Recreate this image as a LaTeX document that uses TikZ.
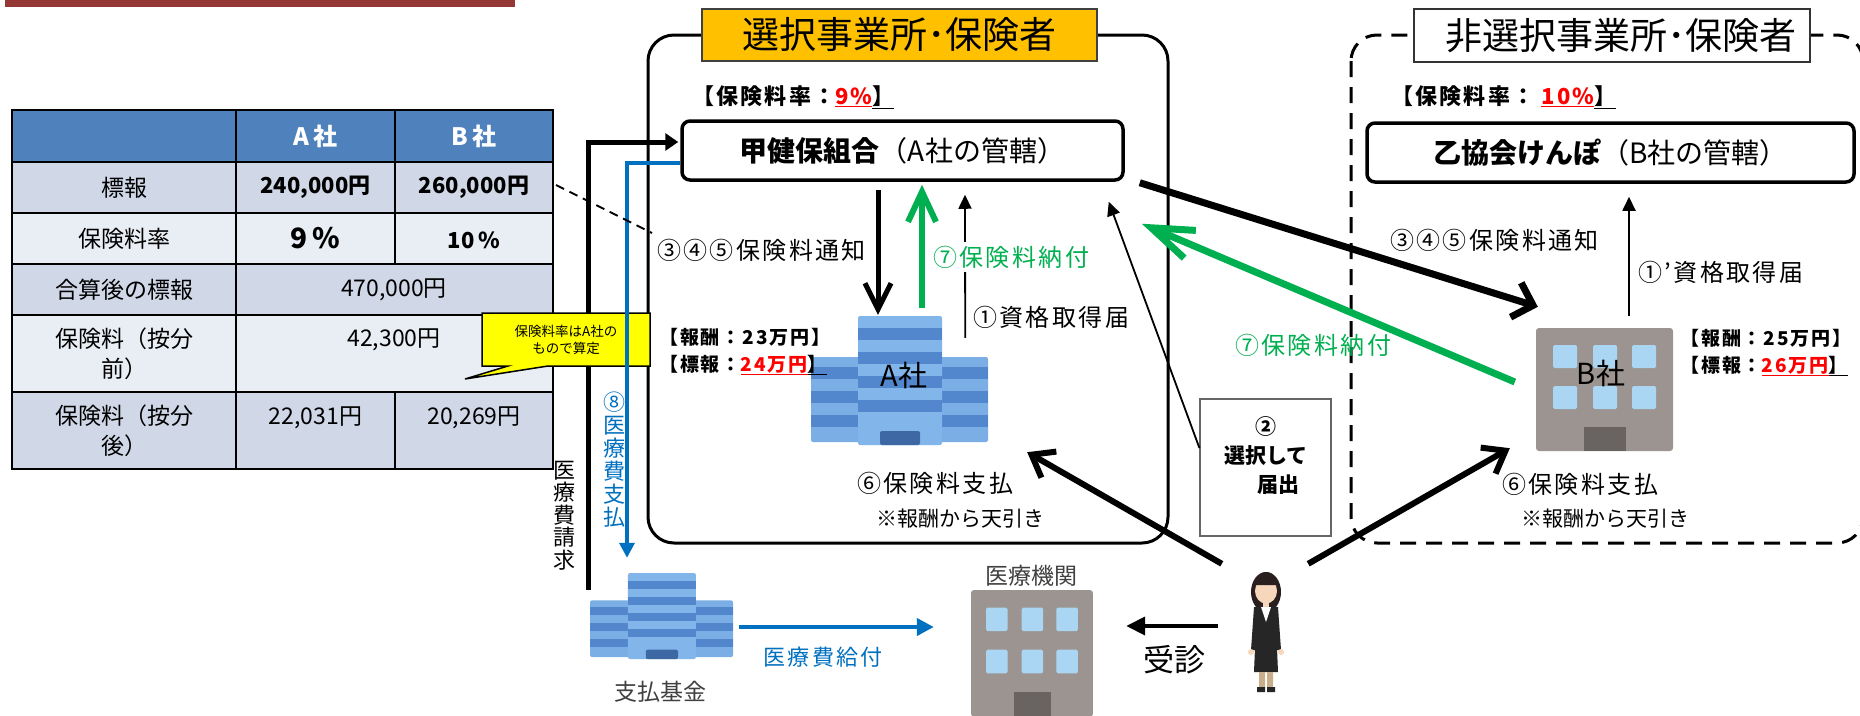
\documentclass[tikz,border=0pt]{standalone}
\usepackage{fontspec}
\setmainfont{Noto Sans CJK JP}
\newfontfamily\widejp{Noto Sans CJK JP}[LetterSpace=10]
\usepackage{tikz}
\usetikzlibrary{positioning,arrows.meta,calc}

\definecolor{hdrblue}{HTML}{4F81BD}
\definecolor{rowdark}{HTML}{D0D8E8}
\definecolor{rowlight}{HTML}{E9EDF4}
\definecolor{selorange}{HTML}{FFC000}
\definecolor{paygreen}{HTML}{00B050}
\definecolor{medblue}{HTML}{0070C0}
\definecolor{barred}{HTML}{953735}
\definecolor{notered}{HTML}{FF0000}
\definecolor{noteyellow}{HTML}{FFFF00}
\definecolor{bldlight}{HTML}{7AAEE4}
\definecolor{bldfront}{HTML}{82B6EA}
\definecolor{blddark}{HTML}{5287CD}
\definecolor{blddoor}{HTML}{3E68A4}
\definecolor{bldgray}{HTML}{9C9490}
\definecolor{winblue}{HTML}{AAD6F4}
\definecolor{doorgray}{HTML}{696361}
\definecolor{skin}{HTML}{F7D7BC}
\definecolor{hair}{HTML}{2A1F1F}
\definecolor{suit}{HTML}{262626}
\definecolor{legs}{HTML}{C8AE8A}

\newcommand{\fsz}[2]{\fontsize{#1}{#2}\selectfont}

% blue office block in a 177 x 129 box
\newcommand{\bluebldg}{%
  \fill[bldlight, rounded corners=2pt] (0,41) rectangle (177,126);
  \foreach \yy in {51,75,99} \fill[blddark] (0,\yy) rectangle (177,\yy+12);
  \fill[bldfront, rounded corners=2pt] (47,0) rectangle (131,129);
  \foreach \yy in {12,36,60,84} \fill[blddark] (47,\yy) rectangle (131,\yy+12);
  \fill[blddoor, rounded corners=2pt] (69,115) rectangle (109,129);
}
% grey office block in a 137 x 123 box
\newcommand{\graybldg}{%
  \fill[bldgray, rounded corners=3pt] (0,0) rectangle (137,123);
  \foreach \xx in {17,57,96} \foreach \yy in {17,58}
    \fill[winblue, rounded corners=1.5pt] (\xx,\yy) rectangle (\xx+24,\yy+23);
  \fill[doorgray] (48,99) rectangle (90,123);
}

\begin{document}
\begin{tikzpicture}[
  x=1pt, y=-1pt,
  cell/.style={font=\fsz{23}{30}, align=center, inner sep=0pt},
  headcell/.style={cell, font=\fsz{24}{28}\bfseries, text=white},
  valcell/.style={cell, font=\fsz{22}{26}\bfseries},
  grid/.style={line width=2.5pt, line cap=rect},
  lbl/.style={font=\widejp\fsz{24}{28}, inner sep=1pt, anchor=west},
  ratelbl/.style={font=\widejp\fsz{22}{26}\bfseries, inner sep=0pt, anchor=west},
  paylbl/.style={font=\widejp\fsz{19}{23}\bfseries, inner sep=0pt, anchor=west},
  smalllbl/.style={font=\fsz{21}{25}, inner sep=0pt, anchor=west},
  iconlbl/.style={font=\fsz{23}{27}, text=black!75, inner sep=0pt},
  vlbl/.style={font=\fsz{22}{22.5}, align=center, inner sep=0pt},
  insurer/.style={draw, line width=3.5pt, rounded corners=8pt, minimum height=59pt, inner sep=0pt, font=\fsz{28}{32}},
  icon/.style={inner sep=0pt},
  notice/.style={line width=5pt, -{Straight Barb[length=26pt,width=26pt]}},
  payin/.style={paygreen, line width=6pt, -{Straight Barb[length=30pt,width=28pt]}},
  deduct/.style={line width=6pt, -{Straight Barb[length=20pt,width=30pt]}},
  report/.style={line width=1.8pt, -{Triangle[length=14pt,width=13pt]}},
  medline/.style={medblue, line width=3.5pt, -{Triangle[length=15pt,width=15pt]}},
]
\fill[white] (0,0) rectangle (1860,715);
\useasboundingbox (0,0) rectangle (1860,715);
\fill[barred] (5,0) rectangle (515,7);

% premium table
\fill[hdrblue] (12,110) rectangle (553,162);
\foreach \ya/\yb/\c in {162/213/rowdark, 213/264/rowlight, 264/315/rowdark, 315/392/rowlight, 392/469/rowdark}
  \fill[\c] (12,\ya) rectangle (553,\yb);
\foreach \yy in {110,162,213,264,315,392,469}
  \draw[grid] (12,\yy) -- (553,\yy);
\draw[grid] (12,110) -- (12,469) (236,110) -- (236,469) (553,110) -- (553,469);
\draw[grid] (395,110) -- (395,264) (395,392) -- (395,469);

\node[headcell] (hdA) at (315.5,136) {A\,社};
\node[headcell] (hdB) at (474,136) {B\,社};
\node[cell] (hyo) at (124,187.5) {標報};
\node[valcell] (hyoA) at (315.5,187.5) {240,000円};
\node[valcell] (hyoB) at (474,187.5) {260,000円};
\node[cell] (rit) at (124,238.5) {保険料率};
\node[valcell, font=\fsz{28}{30}\bfseries] (ritA) at (315.5,238.5) {9\,\%};
\node[valcell] (ritB) at (474,240) {10\,\%};
\node[cell] (gou) at (124,289.5) {合算後の標報};
\node[cell] (gouV) at (394,289.5) {470,000円};
\node[cell] (mae) at (124,353.5) {保険料（按分\\前）};
\node[cell] (maeV) at (394,340) {42,300円};
\node[cell] (ato) at (124,430.5) {保険料（按分\\後）};
\node[cell] (atoA) at (315.5,418) {22,031円};
\node[cell] (atoB) at (474,418) {20,269円};

% selected side
\draw[line width=3pt, rounded corners=26pt] (648,35) rectangle (1168,543);
\node[fill=selorange, draw=black!75, line width=1.2pt, minimum width=395pt, minimum height=52pt, inner sep=0pt, font=\fsz{37}{40}] (seltitle) at (899.5,35) {選択事業所･保険者};
\node[ratelbl] (rateA) at (692,97) {【保険料率：\textcolor{notered}{\underline{9\%}}\underline{】}};
\node[insurer, minimum width=441pt] (kou) at (902.5,150.5) {\textbf{甲健保組合}（A社の管轄）};

% non-selected side
\draw[line width=3pt, dash pattern=on 16pt off 10pt, rounded corners=26pt] (1351,35) rectangle (1863,543);
\node[fill=white, draw=black!80, line width=1.2pt, minimum width=396pt, minimum height=53pt, inner sep=0pt, font=\fsz{37}{40}] (nontitle) at (1612,35.5) {\hspace*{18pt}非選択事業所･保険者};
\node[ratelbl] (rateB) at (1391,97) {【保険料率：\ \textcolor{notered}{\underline{10\%}}\underline{】}};
\node[insurer, minimum width=487pt] (otsu) at (1610.5,152.5) {\textbf{乙協会けんぽ}（B社の管轄）};

% companies, fund, hospital
\begin{scope}[shift={(811,316)}] \bluebldg \end{scope}
\node[icon, minimum width=177pt, minimum height=129pt] (firmA) at (899.5,380.5) {};
\node[font=\fsz{29}{30}] (firmAname) at (904,375) {A社};

\begin{scope}[shift={(1536,328)}] \graybldg \end{scope}
\node[icon, minimum width=137pt, minimum height=123pt] (firmB) at (1604.5,389.5) {};
\node[font=\fsz{29}{30}] (firmBname) at (1601,373) {B社};

\begin{scope}[shift={(590,573)}, xscale=0.808, yscale=0.667] \bluebldg \end{scope}
\node[icon, minimum width=143pt, minimum height=86pt] (kikin) at (661.5,616) {};
\node[iconlbl] (kikinname) at (660,692) {支払基金};

\begin{scope}[shift={(971,590)}, xscale=0.89, yscale=1.03] \graybldg \end{scope}
\node[icon, minimum width=122pt, minimum height=127pt] (kikan) at (1032,653.5) {};
\node[iconlbl] (kikanname) at (1031,576) {医療機関};

\node[draw=black!60, line width=1.2pt, minimum width=131pt, minimum height=137pt] (todoke) at (1265.5,467.5) {};
\node[font=\fsz{21}{29}\bfseries, align=center] (todokeText) at (1266,456) {②\\選択して\\\hspace*{24pt}届出};

% insured person
\fill[hair] (1266,592) ellipse (15 and 20);
\fill[skin] (1266,591) ellipse (11 and 12.5);
\fill[hair] (1255,585) arc (180:360:11 and 13) -- cycle;
\fill[skin] (1263,601) rectangle (1269,608);
\fill[suit] (1254,607) -- (1278,607) -- (1281,650) -- (1251,650) -- cycle;
\fill[white] (1261,607) -- (1271,607) -- (1266,622) -- cycle;
\fill[skin] (1251,652) circle (3) (1281,652) circle (3);
\fill[suit] (1255,648) -- (1277,648) -- (1278,672) -- (1254,672) -- cycle;
\fill[legs] (1259,672) rectangle (1265,688) (1267,672) rectangle (1273,688);
\fill[suit] (1257,687) rectangle (1265,692) (1267,687) rectangle (1275,692);
\node[icon, minimum width=34pt, minimum height=124pt] (visitor) at (1266,631) {};

% claim and benefit lines on the left
\draw[line width=5pt, -{Triangle[length=13pt,width=17pt]}] ($(kikin.north west)+(-1,17)$) |- ($(kou.west)+(-2,-8.5)$);
\node[vlbl] (seikyu) at (564,515.5) {医\\療\\費\\請\\求};

\fill[noteyellow, draw=black, line width=1.5pt, line join=miter]
  (482,313) -- (650,313) -- (650,366) -- (548,366) -- (465,379) -- (508,366) -- (482,366) -- cycle;
\node[font=\fsz{13.5}{17}, align=center, inner sep=0pt] (memo) at (566,339.5) {保険料率はA社の\\もので算定};

\draw[medline] ($(kou.west)+(0,12.5)$) -| ($(kikin.north)+(-34.5,-15)$);
\node[vlbl, text=medblue, font=\fsz{22}{23}] (shiharai) at (614,460) {⑧\\医\\療\\費\\支\\払};

\draw[medline, line width=4pt, -{Triangle[length=17pt,width=17pt]}] ($(kikin.east)+(6,11)$) -- ($(kikan.west)+(-37,-26.5)$);
\node[font=\widejp\fsz{22}{24}, text=medblue] (kyufu) at (823,657) {医療費給付};

\draw[line width=4pt, -{Triangle[length=19pt,width=18pt]}] ($(visitor.west)+(-31,-5)$) -- ($(kikan.east)+(33,-27.5)$);
\node[font=\fsz{31}{32}] (jushin) at (1174,660) {受診};

% flows between insurers and companies
\draw[notice] ($(kou.south)+(-24.5,8)$) -- ($(firmA.north)+(-21.5,-1)$);
\node[lbl] (noticeA) at (656,250) {③④⑤保険料通知};
\draw[dashed, line width=1.8pt, dash pattern=on 9pt off 6pt] ($(hyoB)+(82,-2.5)$) -- ($(noticeA.west)+(-4,-17)$);

\draw[report] ($(firmA.north east)+(-23,22)$) -- ($(kou.south)+(62.5,13)$);
\draw[payin] ($(firmA.north)+(22.5,-8)$) -- ($(kou.south)+(19.5,3)$);
\node[lbl, text=paygreen, fill=white, inner sep=4pt] (payA) at (929,257) {⑦保険料納付};
\node[lbl] (shutokuA) at (972,317) {①資格取得届};

\node[paylbl] (wageA) at (659,337) {【報酬：23万円】};
\node[paylbl] (stdA) at (659,365) {【標報：\textcolor{notered}{\underline{24万円}}\underline{】}};

\draw[report] ($(todoke.west)+(0,-19.5)$) -- ($(kou.south east)+(-16,20)$);

\draw[notice, line width=7pt, -{Straight Barb[length=18pt,width=36pt]}] ($(kou.south east)+(15,1)$) -- ($(firmB.north west)+(2,-21)$);
\node[lbl] (noticeB) at (1389,240) {③④⑤保険料通知};
\draw[payin, line width=7pt, -{Straight Barb[length=42pt,width=30pt]}] ($(firmB.west)+(-21,-7.5)$) -- ($(kou.south east)+(17,42)$);
\node[lbl, text=paygreen] (payB) at (1234,345) {⑦保険料納付};

\draw[report] ($(firmB.north)+(24.5,-12)$) -- ($(otsu.south)+(18.5,13)$);
\node[lbl] (shutokuB) at (1637,272) {①’資格取得届};

\node[paylbl] (wageB) at (1680,338) {【報酬：25万円】};
\node[paylbl] (stdB) at (1680,366) {【標報：\textcolor{notered}{\underline{26万円}}\underline{】}};

\draw[deduct] ($(visitor.north west)+(-27,-5)$) -- ($(firmA.south east)+(39,7)$);
\draw[deduct] ($(visitor.north east)+(25,-5)$) -- ($(firmB.south west)+(-26,-3)$);

\node[lbl] (tenbikiA) at (856,483) {⑥保険料支払};
\node[smalllbl] (noteA) at (876,519) {※報酬から天引き};
\node[lbl] (tenbikiB) at (1501,484) {⑥保険料支払};
\node[smalllbl] (noteB) at (1521,519) {※報酬から天引き};
\end{tikzpicture}
\end{document}
